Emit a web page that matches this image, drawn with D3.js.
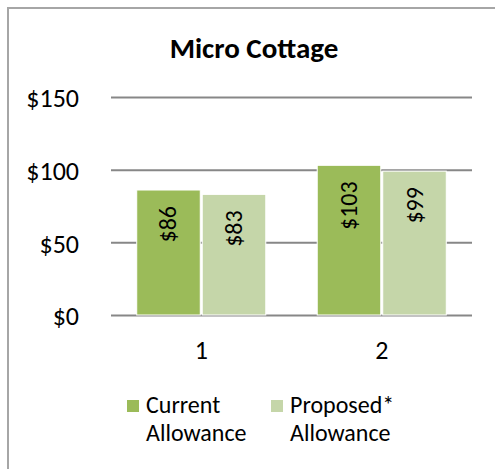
<!DOCTYPE html>
<html>
<head>
<meta charset="utf-8">
<script src="https://cdn.jsdelivr.net/npm/d3@7"></script>
<style>
  body { margin: 0; background: #fff; }
</style>
</head>
<body>
<div id="chart"></div>
<script>
const categories = ["1", "2"];
const seriesNames = ["Current Allowance", "Proposed* Allowance"];
const current = [86, 103];
const proposed = [83, 99];
const yTicks = [0, 50, 100, 150];
const colors = ["#9bbb59", "#c5d6a9"];

const W = 495, H = 469;
const plot = { left: 111, right: 472, top: 97, bottom: 315 };
const font = "Carlito, Calibri, 'Open Sans', sans-serif";

const svg = d3.select("#chart").append("svg")
  .attr("width", W)
  .attr("height", H);

// chart frame (runs off the right and bottom edges)
svg.append("rect")
  .attr("x", 8).attr("y", 8)
  .attr("width", 520).attr("height", 520)
  .attr("fill", "#fff")
  .attr("stroke", "#a6a6a6")
  .attr("stroke-width", 2);

// title
svg.append("text")
  .attr("x", 254)
  .attr("y", 58)
  .attr("text-anchor", "middle")
  .attr("font-family", font)
  .attr("font-weight", "bold")
  .attr("font-size", "29px")
  .attr("fill", "#000")
  .text("Micro Cottage");

// scales
const x0 = d3.scaleBand()
  .domain(categories)
  .range([plot.left, plot.right])
  .paddingInner(0.285)
  .paddingOuter(0.1425);

const x1 = d3.scaleBand()
  .domain(seriesNames)
  .range([0, x0.bandwidth()])
  .paddingInner(0.03);

const y = d3.scaleLinear()
  .domain([0, 150])
  .range([plot.bottom, plot.top]);

// gridlines + y labels
svg.append("g")
  .attr("transform", `translate(${plot.left},0)`)
  .call(d3.axisLeft(y).tickValues(yTicks).tickFormat(d => "$" + d)
    .tickSize(-(plot.right - plot.left)).tickPadding(32))
  .call(g => g.select(".domain").remove())
  .call(g => g.selectAll("line").attr("stroke", "#878787").attr("stroke-width", 2))
  .call(g => g.selectAll("text")
    .attr("dy", "0.38em")
    .attr("font-family", font)
    .attr("font-size", "26px")
    .attr("fill", "#000"));

// x labels
svg.append("g")
  .attr("transform", `translate(0,${plot.bottom})`)
  .call(d3.axisBottom(x0).tickSize(0))
  .call(g => g.select(".domain").remove())
  .call(g => g.selectAll("text")
    .attr("y", 44)
    .attr("dy", 0)
    .attr("font-family", font)
    .attr("font-size", "26px")
    .attr("fill", "#000"));

const rows = categories.map((c, i) => ({
  cat: c,
  vals: [
    { name: seriesNames[0], value: current[i], color: colors[0] },
    { name: seriesNames[1], value: proposed[i], color: colors[1] }
  ]
}));

const groups = svg.selectAll("g.grp")
  .data(rows)
  .enter()
  .append("g")
    .attr("class", "grp")
    .attr("transform", d => `translate(${x0(d.cat)},0)`);

groups.selectAll("rect")
  .data(d => d.vals)
  .enter()
  .append("rect")
    .attr("x", d => x1(d.name))
    .attr("y", d => y(d.value))
    .attr("width", x1.bandwidth())
    .attr("height", d => plot.bottom - y(d.value))
    .attr("fill", d => d.color)
    .attr("stroke", "#fff")
    .attr("stroke-width", 1);

// rotated value labels
groups.selectAll("text.label")
  .data(d => d.vals)
  .enter()
  .append("text")
    .attr("class", "label")
    .attr("transform", d => `translate(${x1(d.name) + x1.bandwidth() / 2 + 8},${y(d.value) + 16}) rotate(-90)`)
    .attr("text-anchor", "end")
    .attr("font-family", font)
    .attr("font-size", "24px")
    .attr("fill", "#000")
    .text(d => "$" + d.value);

// legend
const legendX = [127, 271];
seriesNames.forEach((name, i) => {
  const lg = svg.append("g").attr("transform", `translate(${legendX[i]},400)`);
  lg.append("rect")
    .attr("width", 12).attr("height", 12)
    .attr("fill", colors[i]);
  const words = name.split(" ");
  lg.append("text")
    .attr("y", 13)
    .attr("font-family", font)
    .attr("font-size", "24px")
    .attr("fill", "#000")
    .selectAll("tspan")
    .data(words)
    .enter()
    .append("tspan")
      .attr("x", 19)
      .attr("dy", (d, j) => j === 0 ? 0 : 28)
      .text(d => d);
});
</script>
</body>
</html>
